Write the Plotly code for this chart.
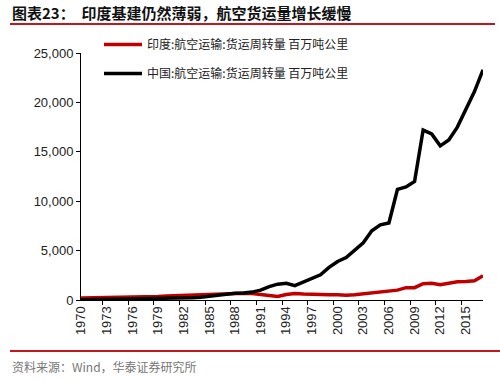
import plotly.graph_objects as go

years = [str(y) for y in range(1970, 2018)]

india = [200, 210, 220, 240, 250, 270, 290, 310, 330, 360,
         400, 430, 460, 500, 540, 580, 600, 640, 680, 680,
         650, 560, 450, 350, 550, 650, 600, 550, 520, 520,
         530, 480, 520, 600, 700, 800, 880, 1000, 1250, 1250,
         1650, 1700, 1550, 1700, 1850, 1880, 1950, 2450]

china = [30, 40, 50, 60, 70, 80, 90, 100, 110, 130,
         150, 180, 200, 230, 280, 400, 500, 600, 680, 720,
         800, 1000, 1350, 1600, 1700, 1450, 1800, 2200, 2550, 3300,
         3900, 4300, 5100, 5800, 7000, 7600, 7800, 11200, 11450, 12000,
         17200, 16800, 15600, 16200, 17500, 19400, 21100, 23300]

name_india = "印度:航空运输:货运周转量 百万吨公里"
name_china = "中国:航空运输:货运周转量 百万吨公里"
title_text = "图表23：  印度基建仍然薄弱，航空货运量增长缓慢"
source_text = "资料来源：Wind，华泰证券研究所"

RED = "#C00000"
BAR = "#C4161C"

L, R, T, B = 81, 483, 53, 300
W, H = 500, 381
def px(x):
    return (x - L) / (R - L)
def py(y):
    return (B - y) / (B - T)
def cx(x):
    return x / W
def cy(y):
    return 1 - y / H

fig = go.Figure()
fig.add_trace(go.Scatter(x=years, y=india, name=name_india, mode="lines",
                         line=dict(color=RED, width=3.5), legend="legend"))
fig.add_trace(go.Scatter(x=years, y=china, name=name_china, mode="lines",
                         line=dict(color="black", width=3.5), legend="legend2"))

legfont = dict(family="Noto Sans CJK SC", size=12, color="#222")
fig.update_layout(
    width=W, height=H, showlegend=True,
    margin=dict(l=L, r=W - R, t=T, b=H - B, autoexpand=False),
    paper_bgcolor="white", plot_bgcolor="white",
    font=dict(family="Liberation Sans, Arial", size=13, color="#222"),
    legend=dict(xref="container", yref="container", x=cx(99), y=cy(30),
                xanchor="left", yanchor="top", visible=True,
                bgcolor="rgba(0,0,0,0)", font=legfont, itemwidth=38),
    legend2=dict(xref="container", yref="container", x=cx(99), y=cy(59),
                 xanchor="left", yanchor="top", visible=True,
                 bgcolor="rgba(0,0,0,0)", font=legfont, itemwidth=38),
    xaxis=dict(type="category", dtick=3, tickson="boundaries",
               ticks="outside", ticklen=4, tickcolor="black", automargin=False,
               showline=True, linecolor="black", linewidth=1,
               tickangle=-90, showgrid=False, zeroline=False,
               tickfont=dict(size=13)),
    yaxis=dict(range=[0, 25000], tickvals=[0, 5000, 10000, 15000, 20000, 25000],
               tickformat=",", ticks="outside", ticklen=4, tickcolor="black",
               showline=True, linecolor="black", linewidth=1, automargin=False,
               showgrid=False, zeroline=False, tickfont=dict(size=13)),
    shapes=[
        dict(type="line", xref="paper", yref="paper", x0=px(10), x1=px(495),
             y0=py(24), y1=py(24), line=dict(color=BAR, width=2)),
        dict(type="line", xref="paper", yref="paper", x0=px(10), x1=px(500),
             y0=py(351), y1=py(351), line=dict(color=BAR, width=2)),
    ],
    annotations=[
        dict(text="<b>" + title_text + "</b>", xref="paper", yref="paper",
             x=px(10), y=py(12), xanchor="left", yanchor="middle", showarrow=False,
             font=dict(family="Noto Sans CJK SC", size=15, color="#111")),
        dict(text=source_text, xref="paper", yref="paper",
             x=px(10), y=py(366), xanchor="left", yanchor="middle", showarrow=False,
             font=dict(family="Noto Sans CJK SC", size=12, color="#777")),
    ],
)

fig.write_html("out.html", config={"displayModeBar": False},
               post_script="document.body.style.margin='0';document.body.style.padding='0';")
